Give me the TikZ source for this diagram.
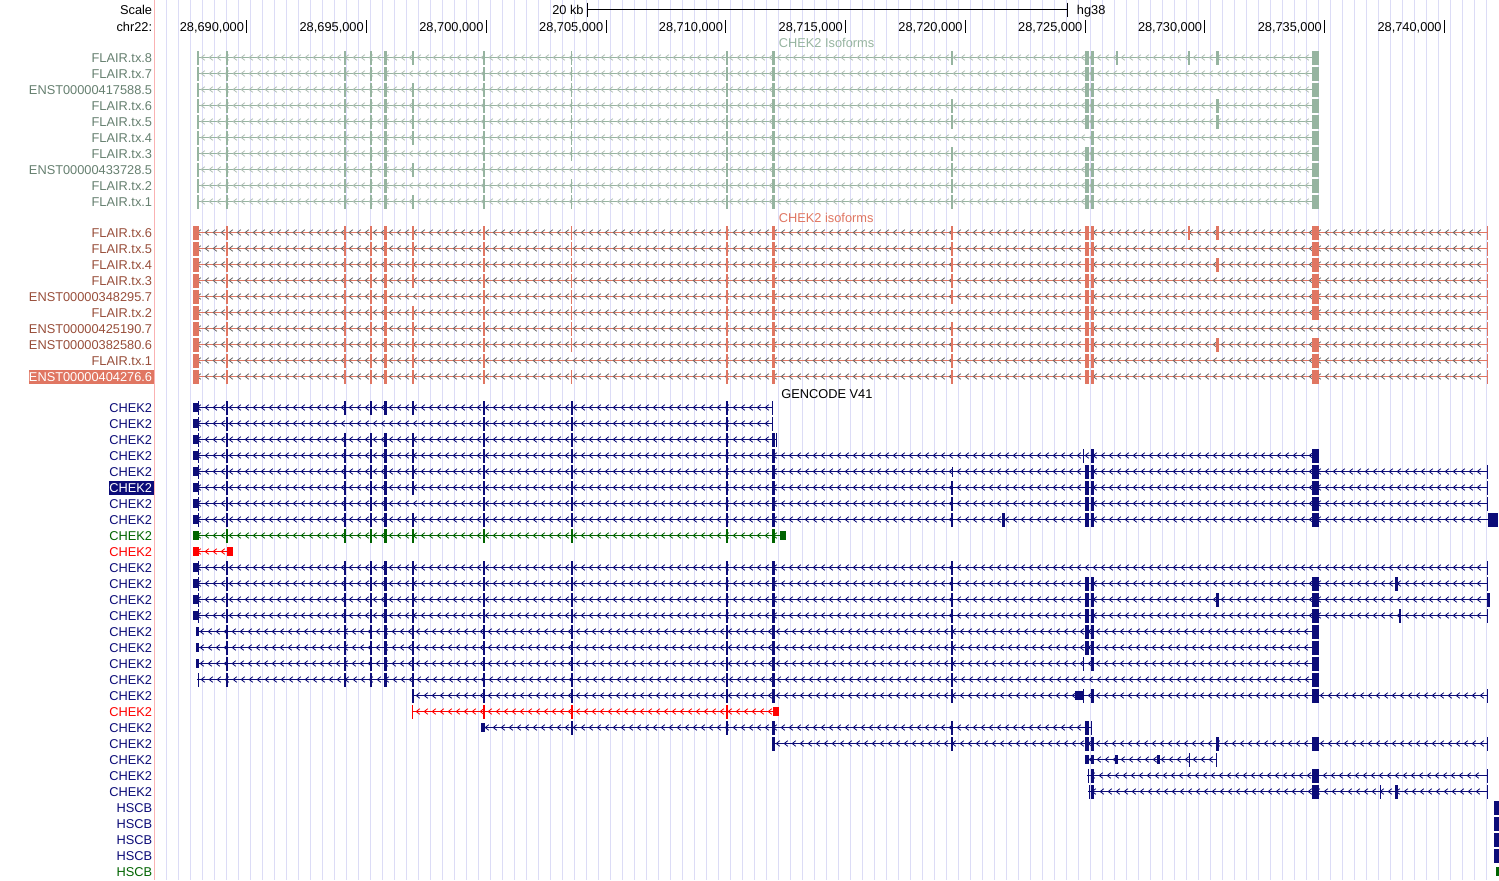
\documentclass[tikz,border=0pt]{standalone}
\usepackage{fontspec}
\setmainfont{Liberation Sans}
\definecolor{gridline}{RGB}{220,220,246}
\definecolor{sepline}{RGB}{250,178,178}
\definecolor{flairgrn}{RGB}{150,180,160}
\definecolor{flairgrnlbl}{RGB}{102,128,112}
\definecolor{flairgrnchev}{RGB}{178,192,183}
\definecolor{flairsal}{RGB}{224,118,98}
\definecolor{flairsallbl}{RGB}{152,78,58}
\definecolor{flairsalchev}{RGB}{105,105,105}
\definecolor{gcnavy}{RGB}{12,12,120}
\definecolor{gcgreen}{RGB}{0,100,0}
\definecolor{gcred}{RGB}{255,0,0}

% one transcript row: y, from, to, line colour, chevron colour
\newcommand{\txrow}[5]{%
  \draw[#4, line width=0.6pt] (#2,#1) -- (#3,#1);
  \pgfmathsetmacro\chA{#2+6}\pgfmathsetmacro\chB{#2+14}\pgfmathsetmacro\chZ{#3-4}
  \draw[#5, line width=0.42pt] foreach \cx in {\chA,\chB,...,\chZ}
    {(\cx+1.8,#1-2.8) -- (\cx-1.8,#1) -- (\cx+1.8,#1+2.8)};}
% one exon column: y0, x1, x2, half height, colour, rows
\newcommand{\excol}[6]{%
  \foreach \r in {#6} \fill[#5] (#2,#1+16*\r-#4) rectangle (#3,#1+16*\r+#4);}

\begin{document}
\begin{tikzpicture}[x=0.5pt, y=-0.5pt,
  lbl/.style={font=\fontsize{6.4}{7.7}\selectfont, inner sep=0pt, anchor=base east},
  ttl/.style={font=\fontsize{6.4}{7.7}\selectfont, inner sep=0pt, anchor=base west},
  tickrule/.style={line width=0.5pt, draw=black},
  gridrule/.style={line width=0.5pt, draw=gridline}
]
\useasboundingbox (0,0) rectangle (1499,880);
\fill[white] (0,0) rectangle (1499,880);

% ---- grid and label separator
\foreach \k in {0,...,110} \draw[gridrule] (166.7+12*\k,0) -- (166.7+12*\k,880);
\draw[sepline, line width=0.5pt] (154,0) -- (154,880);

% ---- scale bar and ruler
\node[lbl] (scl) at (152.5,14.8) {Scale};
\node[lbl] (chr) at (152.5,31.3) {chr22:};
\draw[tickrule] (587,9.3) -- (1067,9.3);
\draw[tickrule] (587,2.5) -- (587,16.5);
\draw[tickrule] (1067,2.5) -- (1067,16.5);
\node[lbl] (kb) at (584,14.5) {20 kb};
\node[ttl] (asm) at (1076.5,14.5) {hg38};
\foreach \p [count=\k from 0] in {690,695,700,705,710,715,720,725,730,735,740} {
  \draw[tickrule] (246.7+119.77*\k,20) -- (246.7+119.77*\k,33);
  \node[lbl] (t\p) at (244.3+119.77*\k,31.3) {28,\p,000};
}

% ---- FLAIR track, grey-green
\node[ttl, text=flairgrn] (ttlgrn) at (778.5,47.5) {CHEK2 Isoforms};
\foreach \r in {0,...,9} \txrow{57.5+16*\r}{197}{1318}{flairgrn}{flairgrnchev};
\excol{57.5}{196.5}{198.5}{7}{flairgrn}{0,...,9}
\excol{57.5}{225.5}{227.5}{7}{flairgrn}{0,...,9}
\excol{57.5}{344}{346}{7}{flairgrn}{0,...,9}
\excol{57.5}{370}{372}{7}{flairgrn}{0,...,9}
\excol{57.5}{383.5}{387}{7}{flairgrn}{0,...,9}
\excol{57.5}{412}{414}{7}{flairgrn}{0,2,3,4,5,7,9}
\excol{57.5}{483}{485}{7}{flairgrn}{0,...,9}
\excol{57.5}{571}{572}{7}{flairgrn}{0,1,2,3,4,5,6,8,9}
\excol{57.5}{726}{728}{7}{flairgrn}{0,...,9}
\excol{57.5}{771.5}{774.5}{7}{flairgrn}{0,...,9}
\excol{57.5}{951}{953}{7}{flairgrn}{0,3,4,6,7,8,9}
\excol{57.5}{1085}{1089}{7}{flairgrn}{0,1,2,3,4,6,7,8,9}
\excol{57.5}{1090.5}{1093.5}{7}{flairgrn}{0,...,9}
\excol{57.5}{1115.5}{1118}{7}{flairgrn}{0}
\excol{57.5}{1188}{1190}{7}{flairgrn}{0}
\excol{57.5}{1215.5}{1218.5}{7}{flairgrn}{0,3,4}
\excol{57.5}{1311.5}{1318.5}{7}{flairgrn}{0,...,9}
\foreach \r/\t in {0/FLAIR.tx.8, 1/FLAIR.tx.7, 2/ENST00000417588.5, 3/FLAIR.tx.6,
  4/FLAIR.tx.5, 5/FLAIR.tx.4, 6/FLAIR.tx.3, 7/ENST00000433728.5, 8/FLAIR.tx.2, 9/FLAIR.tx.1}
  \node[lbl, text=flairgrnlbl] (g\r) at (152.5,62.5+16*\r) {\t};

% ---- FLAIR track, salmon
\node[ttl, text=flairsal] (ttlsal) at (778.5,222.5) {CHEK2 isoforms};
\foreach \r in {0,...,9} \txrow{232.5+16*\r}{193}{1488}{flairsal}{flairsalchev};
\excol{232.5}{193}{199}{7}{flairsal}{0,...,9}
\excol{232.5}{225.5}{227.5}{7}{flairsal}{0,...,9}
\excol{232.5}{344}{346}{7}{flairsal}{0,...,9}
\excol{232.5}{370}{372}{7}{flairsal}{0,...,9}
\excol{232.5}{383.5}{387}{7}{flairsal}{0,...,9}
\excol{232.5}{412}{414}{7}{flairsal}{0,1,2,3,5,6,7,8,9}
\excol{232.5}{483}{485}{7}{flairsal}{0,...,9}
\excol{232.5}{571}{572}{7}{flairsal}{0,1,2,3,4,5,6,7,9}
\excol{232.5}{726}{728}{7}{flairsal}{0,...,9}
\excol{232.5}{771.5}{774.5}{7}{flairsal}{0,...,9}
\excol{232.5}{951}{953}{7}{flairsal}{0,1,2,3,4,6,7,8,9}
\excol{232.5}{1085}{1089}{7}{flairsal}{0,...,9}
\excol{232.5}{1090.5}{1093.5}{7}{flairsal}{0,...,9}
\excol{232.5}{1188}{1190}{7}{flairsal}{0}
\excol{232.5}{1215.5}{1218.5}{7}{flairsal}{0,2,7}
\excol{232.5}{1311.5}{1318.5}{7}{flairsal}{0,1,2,3,4,5,7,8,9}
\excol{232.5}{1487}{1488}{7}{flairsal}{0,...,9}
\foreach \r/\t in {0/FLAIR.tx.6, 1/FLAIR.tx.5, 2/FLAIR.tx.4, 3/FLAIR.tx.3,
  4/ENST00000348295.7, 5/FLAIR.tx.2, 6/ENST00000425190.7, 7/ENST00000382580.6, 8/FLAIR.tx.1}
  \node[lbl, text=flairsallbl] (s\r) at (152.5,237.5+16*\r) {\t};
\fill[flairsal] (28.5,369.5) rectangle (153.5,383.5);
\node[lbl, text=white] (s9) at (152.5,381.5) {ENST00000404276.6};

% ---- GENCODE V41
\node[ttl] (ttlgc) at (781,398) {GENCODE V41};
\foreach \r/\s/\e/\col in {0/193/773/gcnavy, 1/193/773/gcnavy, 2/193/777/gcnavy,
  3/193/1318/gcnavy, 4/193/1488/gcnavy, 5/193/1488/gcnavy, 6/193/1488/gcnavy,
  7/193/1488/gcnavy, 8/193/786/gcgreen, 9/193/233/gcred, 10/193/1488/gcnavy,
  11/193/1488/gcnavy, 12/193/1488/gcnavy, 13/193/1488/gcnavy, 14/196/1318/gcnavy,
  15/196/1318/gcnavy, 16/196/1318/gcnavy, 17/197/1318/gcnavy, 18/412/1488/gcnavy,
  19/412/779/gcred, 20/481/1091/gcnavy, 21/772/1488/gcnavy, 22/1085/1217/gcnavy,
  23/1087/1488/gcnavy, 24/1088/1488/gcnavy}
  \txrow{407.5+16*\r}{\s}{\e}{\col}{\col};
% untranslated blocks
\excol{407.5}{193}{197.5}{4.5}{gcnavy}{0,1,2,3,4,5,6,7,10,11,12,13}
\excol{407.5}{193}{199}{4.5}{gcgreen}{8}
\excol{407.5}{193}{199}{4.5}{gcred}{9}
\excol{407.5}{227}{233}{4.5}{gcred}{9}
\excol{407.5}{196}{198.5}{4.5}{gcnavy}{14,15,16}
\excol{407.5}{481}{485}{4.5}{gcnavy}{20}
\excol{407.5}{780}{786}{4.5}{gcgreen}{8}
\excol{407.5}{773}{779}{4.5}{gcred}{19}
\excol{407.5}{1075}{1083}{4.5}{gcnavy}{18}
\excol{407.5}{1085}{1089}{4.5}{gcnavy}{22}
\excol{407.5}{1091}{1094}{4.5}{gcnavy}{22}
\excol{407.5}{1115}{1117.5}{4.5}{gcnavy}{22}
\excol{407.5}{1157}{1159.5}{4.5}{gcnavy}{22}
% coding exons
\excol{407.5}{197.5}{199}{7}{gcnavy}{0,1,2,3,4,5,6,7,10,11,12,13,17}
\excol{407.5}{225.5}{227.5}{7}{gcnavy}{0,1,2,3,4,5,6,7,10,11,12,13,14,15,16,17}
\excol{407.5}{225.5}{227.5}{7}{gcgreen}{8}
\foreach \xa/\xb in {344/346, 370/372, 383.5/387} {
  \excol{407.5}{\xa}{\xb}{7}{gcnavy}{0,2,3,4,5,6,7,10,11,12,13,14,15,16,17}
  \excol{407.5}{\xa}{\xb}{7}{gcgreen}{8}
}
\excol{407.5}{412}{414}{7}{gcnavy}{0,2,3,4,5,7,10,11,12,13,14,15,16,17,18}
\excol{407.5}{412}{414}{7}{gcgreen}{8}
\excol{407.5}{412}{413}{7}{gcred}{19}
\foreach \xa/\xb in {483/485, 571/572.5, 726/728} {
  \excol{407.5}{\xa}{\xb}{7}{gcnavy}{0,1,2,3,4,5,6,7,10,11,12,13,14,15,16,17,18}
  \excol{407.5}{\xa}{\xb}{7}{gcgreen}{8}
  \excol{407.5}{\xa}{\xb}{7}{gcred}{19}
}
\excol{407.5}{571}{572.5}{7}{gcnavy}{20}
\excol{407.5}{726}{728}{7}{gcnavy}{20}
\excol{407.5}{772}{773}{7}{gcnavy}{0,1}
\excol{407.5}{771.5}{774.5}{7}{gcnavy}{2,3,4,5,6,7,10,11,12,13,14,15,16,17,18,20,21}
\excol{407.5}{771.5}{774.5}{7}{gcgreen}{8}
\excol{407.5}{776}{777}{7}{gcnavy}{2}
\excol{407.5}{951.5}{952.5}{5}{gcnavy}{4}
\excol{407.5}{951}{953}{7}{gcnavy}{5,6,7,10,11,12,13,14,15,16,17,18,20,21}
\excol{407.5}{1002}{1005}{7}{gcnavy}{7}
\excol{407.5}{1082.5}{1083.5}{7}{gcnavy}{3,16,18}
\excol{407.5}{1085}{1089}{7}{gcnavy}{4,5,6,7,11,12,13,14,15,20,21}
\excol{407.5}{1090.5}{1091.5}{7}{gcnavy}{20}
\excol{407.5}{1087.5}{1088.5}{7}{gcnavy}{23}
\excol{407.5}{1088.5}{1089.5}{7}{gcnavy}{24}
\excol{407.5}{1091}{1094}{7}{gcnavy}{3,4,5,6,7,11,12,13,14,15,16,18,21,23,24}
\excol{407.5}{1188.5}{1189.5}{7}{gcnavy}{22}
\excol{407.5}{1216}{1217}{7}{gcnavy}{22}
\excol{407.5}{1215.5}{1218.5}{7}{gcnavy}{12,21}
\excol{407.5}{1311.5}{1318.5}{7}{gcnavy}{3,4,5,6,7,11,12,13,14,15,16,17,18,21,23,24}
\excol{407.5}{1394.5}{1397.5}{7}{gcnavy}{11,24}
\excol{407.5}{1399}{1401}{7}{gcnavy}{13}
\excol{407.5}{1379.5}{1380.5}{7}{gcnavy}{24}
\excol{407.5}{1487}{1488}{7}{gcnavy}{4,5,6,10,11,13,18,21,23,24}
\excol{407.5}{1487}{1489.5}{7}{gcnavy}{12}
\excol{407.5}{1488}{1498}{7}{gcnavy}{7}
% HSCB, at the right edge
\excol{407.5}{1493.5}{1499}{7}{gcnavy}{25,26,27,28}
\excol{407.5}{1496}{1499}{4.5}{gcgreen}{29}
% row labels
\fill[gcnavy] (108.5,480.5) rectangle (153.5,494.5);
\foreach \r/\t/\col in {0/CHEK2/gcnavy, 1/CHEK2/gcnavy, 2/CHEK2/gcnavy, 3/CHEK2/gcnavy,
  4/CHEK2/gcnavy, 5/CHEK2/white, 6/CHEK2/gcnavy, 7/CHEK2/gcnavy, 8/CHEK2/gcgreen,
  9/CHEK2/gcred, 10/CHEK2/gcnavy, 11/CHEK2/gcnavy, 12/CHEK2/gcnavy, 13/CHEK2/gcnavy,
  14/CHEK2/gcnavy, 15/CHEK2/gcnavy, 16/CHEK2/gcnavy, 17/CHEK2/gcnavy, 18/CHEK2/gcnavy,
  19/CHEK2/gcred, 20/CHEK2/gcnavy, 21/CHEK2/gcnavy, 22/CHEK2/gcnavy, 23/CHEK2/gcnavy,
  24/CHEK2/gcnavy, 25/HSCB/gcnavy, 26/HSCB/gcnavy, 27/HSCB/gcnavy, 28/HSCB/gcnavy,
  29/HSCB/gcgreen}
  \node[lbl, text=\col] (n\r) at (152.5,412.5+16*\r) {\t};
\end{tikzpicture}
\end{document}
